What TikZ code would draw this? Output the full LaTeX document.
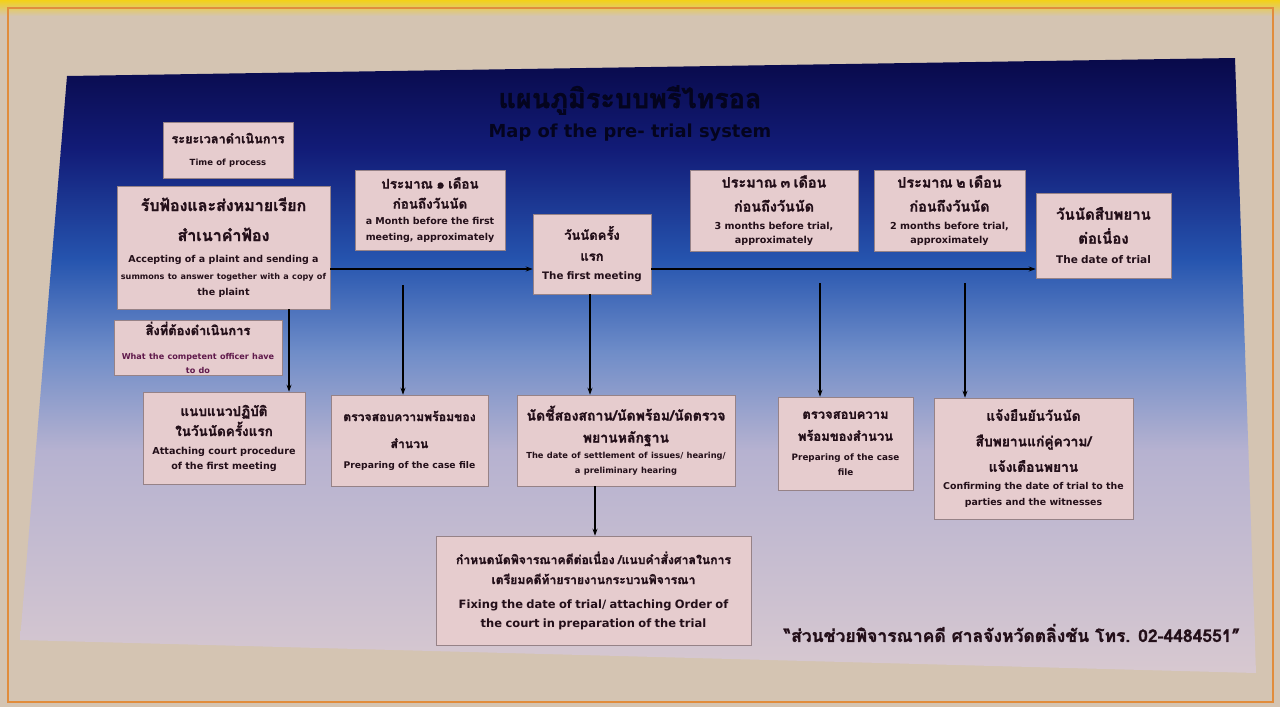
\documentclass[tikz,border=0pt]{standalone}
\usepackage{fontspec}
\setmainfont[Script=Thai, FakeBold=1.4]{Loma}
\newfontfamily\en{DejaVu Sans}
\usetikzlibrary{arrows.meta}
\definecolor{boxpink}{RGB}{230,204,206}
\definecolor{boxedge}{RGB}{150,130,135}
\definecolor{ink}{RGB}{35,15,25}
\definecolor{bgbeige}{RGB}{212,196,178}
\definecolor{frameor}{RGB}{225,140,60}
\definecolor{navyA}{RGB}{8,8,70}
\definecolor{navyB}{RGB}{18,28,120}
\definecolor{blueC}{RGB}{38,85,175}
\definecolor{blueD}{RGB}{110,140,200}
\definecolor{lavE}{RGB}{182,178,208}
\definecolor{pinkF}{RGB}{218,202,208}
\definecolor{titleink}{RGB}{4,4,30}
\definecolor{purpink}{RGB}{95,25,75}
\newcommand\fs[2]{\fontsize{#1}{#2}\selectfont}
\begin{document}
\begin{tikzpicture}[x=1pt,y=-1pt,
  pbox/.style={draw=boxedge, fill=boxpink, line width=0.6pt, inner sep=2pt, align=center, text=ink, font=\bfseries},
  arr/.style={draw=black, line width=1.1pt, -{Stealth[length=7pt,width=5pt]}}]
\useasboundingbox (0,0) rectangle (1280,707);
\fill[bgbeige] (0,0) rectangle (1280,707);
\shade[top color=frameor!40!yellow, bottom color=bgbeige] (0,0) rectangle (1280,16);
\draw[frameor, line width=2.5pt] (8,8) rectangle (1273,702);
\begin{scope}
\clip (67,76) -- (1235,58) -- (1256,673) -- (20,640) -- cycle;
\shade[top color=navyA, bottom color=navyB] (0,50) rectangle (1280,151);
\shade[top color=navyB, bottom color=blueC] (0,150) rectangle (1280,261);
\shade[top color=blueC, bottom color=blueD] (0,260) rectangle (1280,351);
\shade[top color=blueD, bottom color=lavE] (0,350) rectangle (1280,451);
\shade[top color=lavE, bottom color=pinkF] (0,450) rectangle (1280,690);
\end{scope}
% title
\node[font=\bfseries\fs{27}{30}, text=titleink] (t1) at (630,100) {แผนภูมิระบบพรีไทรอล};
\node[font=\bfseries\en\fs{17.9}{22}, text=titleink] (t2) at (630,133) {Map of the pre- trial system};
% boxes
\node[pbox, minimum width=130, minimum height=56, text width=126] (b1) at (228,150)
 {\fs{12.7}{18}ระยะเวลาดำเนินการ\par\en\fs{8.5}{22}Time of process\par};
\node[pbox, minimum width=211, minimum height=123, text width=209] (b2) at (223.5,247.5)
 {\fs{16}{30}รับฟ้องและส่งหมายเรียก\\สำเนาคำฟ้อง\par\vspace{5pt}\en\fs{9.5}{16.5}\mbox{Accepting of a plaint and sending a}\\{\fs{8.1}{16.5}\mbox{summons to answer together with a copy of}}\\\mbox{the plaint}\par};
\node[pbox, minimum width=168, minimum height=55, text width=164] (b3) at (198,347.5)
 {\fs{12.9}{18}สิ่งที่ต้องดำเนินการ\par\vspace{10pt}\en\fs{8.1}{14}\color{purpink}What the competent officer have\\to do\par};
\node[pbox, minimum width=162, minimum height=92, text width=158] (b4) at (224,438)
 {\fs{13.5}{20}แนบแนวปฏิบัติ\\ในวันนัดครั้งแรก\par\vspace{3pt}\en\fs{9.6}{15}Attaching court procedure\\of the first meeting\par};
\node[pbox, minimum width=150, minimum height=80, text width=146] (b5) at (430,210)
 {\fs{13.4}{20}ประมาณ ๑ เดือน\\ก่อนถึงวันนัด\par\en\fs{9.5}{16}a Month before the first\\meeting, approximately\par};
\node[pbox, minimum width=118, minimum height=80, text width=114] (b6) at (592,254)
 {\fs{13}{21}วันนัดครั้ง\\แรก\par\en\fs{10.3}{19}The first meeting\par};
\node[pbox, minimum width=168, minimum height=81, text width=164] (b7) at (774,210.5)
 {\fs{14.4}{24}ประมาณ ๓ เดือน\\ก่อนถึงวันนัด\par\vspace{4pt}\en\fs{9.6}{14}3 months before trial,\\approximately\par};
\node[pbox, minimum width=151, minimum height=81, text width=147] (b8) at (949.5,210.5)
 {\fs{14.4}{24}ประมาณ ๒ เดือน\\ก่อนถึงวันนัด\par\vspace{4pt}\en\fs{9.6}{14}2 months before trial,\\approximately\par};
\node[pbox, minimum width=135, minimum height=85, text width=131] (b9) at (1103.5,235.5)
 {\fs{15}{24}วันนัดสืบพยาน\\ต่อเนื่อง\par\en\fs{10.5}{20}The date of trial\par};
\node[pbox, minimum width=157, minimum height=91, text width=153] (b10) at (409.5,440.5)
 {\fs{12.2}{27}ตรวจสอบความพร้อมของ\\สำนวน\par\en\fs{9.2}{20}Preparing of the case file\par};
\node[pbox, minimum width=218, minimum height=91, text width=214] (b11) at (626,440.5)
 {\fs{14}{22}นัดชี้สองสถาน/นัดพร้อม/นัดตรวจ\\พยานหลักฐาน\par\vspace{1pt}\en\fs{8.3}{15}\mbox{The date of settlement of issues/ hearing/}\\a preliminary hearing\par};
\node[pbox, minimum width=135, minimum height=93, text width=131] (b12) at (845.5,443.5)
 {\fs{13}{22}ตรวจสอบความ\\พร้อมของสำนวน\par\vspace{5pt}\en\fs{8.8}{15}Preparing of the case\\file\par};
\node[pbox, minimum width=199, minimum height=121, text width=195] (b13) at (1033.5,458.5)
 {\fs{13.8}{25.5}แจ้งยืนยันวันนัด\\สืบพยานแก่คู่ความ/\\แจ้งเตือนพยาน\par\vspace{2pt}\en\fs{9.4}{16}\mbox{Confirming the date of trial to the}\\parties and the witnesses\par};
\node[pbox, minimum width=315, minimum height=109, text width=311] (b14) at (593.5,590.5)
 {\fs{12.2}{20}กำหนดนัดพิจารณาคดีต่อเนื่อง /แนบคำสั่งศาลในการ\\เตรียมคดีท้ายรายงานกระบวนพิจารณา\par\vspace{5pt}\en\fs{11.5}{19}\mbox{Fixing the date of trial/ attaching Order of}\\the court in preparation of the trial\par};
\node[font=\bfseries\fs{17.5}{20}, text=ink] (ft) at (1012,633) {“ส่วนช่วยพิจารณาคดี ศาลจังหวัดตลิ่งชัน โทร. 02-4484551"};
% connectors
\coordinate (hy) at (0,269);
\draw[arr] (b2.east |- hy) -- (b6.west |- hy);
\draw[arr] (b6.east |- hy) -- (b9.west |- hy);
\coordinate (va) at (289,0);
\draw[arr] (b2.south -| va) -- (b4.north -| va);
\coordinate (vb) at (403,285);
\draw[arr] (vb) -- (b10.north -| vb);
\coordinate (vc) at (590,0);
\draw[arr] (b6.south -| vc) -- (b11.north -| vc);
\coordinate (vd) at (820,283);
\draw[arr] (vd) -- (b12.north -| vd);
\coordinate (ve) at (965,283);
\draw[arr] (ve) -- (b13.north -| ve);
\coordinate (vf) at (595,0);
\draw[arr] (b11.south -| vf) -- (b14.north -| vf);
\end{tikzpicture}
\end{document}
